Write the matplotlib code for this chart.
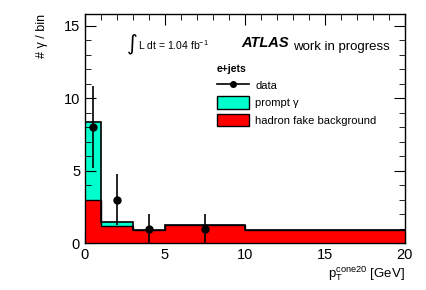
import numpy as np
import matplotlib
matplotlib.use("Agg")
import matplotlib.pyplot as plt
from matplotlib.lines import Line2D
from matplotlib.patches import Patch
from matplotlib.ticker import MultipleLocator

plt.rcParams['font.family'] = ['Liberation Sans', 'DejaVu Sans']
plt.rcParams['mathtext.fontset'] = 'custom'
plt.rcParams['mathtext.rm'] = 'Liberation Sans'
plt.rcParams['mathtext.it'] = 'Liberation Sans:italic'

bin_edges = [0, 1, 3, 5, 10, 20]
hadron_fake = [3.0, 1.17, 0.93, 1.26, 0.9]
prompt_gamma = [5.35, 0.31, 0.0, 0.0, 0.0]
data_x = [0.5, 2.0, 4.0, 7.5]
data_y = [8, 3, 1, 1]
data_err = [2.83, 1.73, 1.0, 1.0]

fig = plt.figure(figsize=(4.27, 2.90), dpi=100)
ax = fig.add_axes([0.199, 0.162, 0.749, 0.790])

edges = np.array(bin_edges)
hf = np.array(hadron_fake)
pg = np.array(prompt_gamma)
total = hf + pg

ax.stairs(total, edges, baseline=0, fill=True, color='#00FFCC', zorder=1)
ax.stairs(hf, edges, baseline=0, fill=True, color='#FF0000', zorder=2)
ax.stairs(hf, edges, baseline=None, color='black', lw=1.0, zorder=3)
ax.stairs(total, edges, baseline=None, color='black', lw=1.2, zorder=3)

ax.errorbar(data_x, data_y, yerr=data_err, fmt='o', color='black', ms=5,
            elinewidth=1.2, capsize=0, zorder=5)

ax.set_xlim(0, 20)
ax.set_ylim(0, 15.8)
ax.xaxis.set_major_locator(MultipleLocator(5))
ax.xaxis.set_minor_locator(MultipleLocator(1))
ax.yaxis.set_major_locator(MultipleLocator(5))
ax.yaxis.set_minor_locator(MultipleLocator(1))
ax.tick_params(which='both', direction='in', top=True, right=True, labelsize=10.5)
ax.tick_params(which='major', length=8)
ax.tick_params(which='minor', length=4)
for s in ax.spines.values():
    s.set_linewidth(1.0)

ax.set_ylabel('# γ / bin', fontsize=9, loc='top', labelpad=11)
ax.set_xlabel(r'p$_\mathregular{T}^\mathregular{cone20}$ [GeV]', fontsize=9.5,
              loc='right', labelpad=2)

ax.text(0.13, 0.87, '∫', transform=ax.transAxes, fontsize=15, va='center',
        family=['DejaVu Sans'])
ax.text(0.165, 0.865, r'L dt = 1.04 fb$^{-1}$', transform=ax.transAxes,
        fontsize=7.5, va='center')
atl = ax.text(0.49, 0.855, 'ATLAS', transform=ax.transAxes, fontsize=10.5,
              fontweight='bold', fontstyle='italic', va='baseline')
ax.annotate('work in progress', xy=(1, 0), xycoords=atl, xytext=(3, 0),
            textcoords='offset points', fontsize=9.5, va='baseline')

handles = [Line2D([0], [0], color='black', marker='o', ms=4, lw=1.2),
           Patch(facecolor='#00FFCC', edgecolor='black'),
           Patch(facecolor='#FF0000', edgecolor='black')]
labels = ['data', 'prompt γ', 'hadron fake background']
leg = ax.legend(handles, labels, title='e+jets', loc='upper left',
                bbox_to_anchor=(0.413, 0.783), frameon=False, fontsize=8,
                title_fontproperties={'weight': 'bold', 'size': 7.5},
                handlelength=2.9, handleheight=1.35, labelspacing=0.45,
                handletextpad=0.55, borderaxespad=0, borderpad=0)
leg._legend_box.align = 'left'

fig.savefig('out.png', dpi=100)
